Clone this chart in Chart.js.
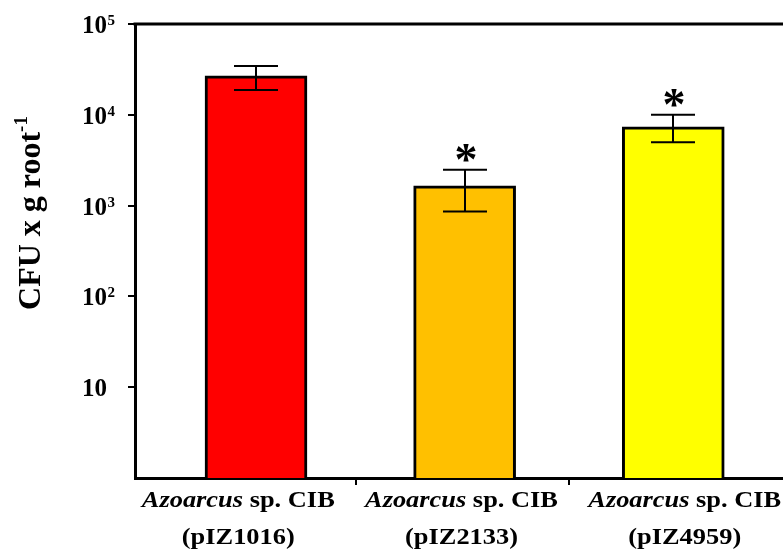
<!DOCTYPE html>
<html><head><meta charset="utf-8">
<script src="https://cdn.jsdelivr.net/npm/chart.js@4.4.1/dist/chart.umd.min.js"></script>
<style>html,body{margin:0;padding:0;background:#fff}#wrap{width:783px;height:551px}</style>
</head><body><div id="wrap"><canvas id="c" width="783" height="551"></canvas></div>
<script>
// ---- data ----
const genus = ['Azoarcus', 'Azoarcus', 'Azoarcus'];
const strain = ['sp. CIB', 'sp. CIB', 'sp. CIB'];
const plasmid = ['(pIZ1016)', '(pIZ2133)', '(pIZ4959)'];
const cfu = [26800, 1650, 7360];
const cfuHigh = [34500, 2480, 10000];
const cfuLow = [18800, 860, 5000];
const significant = [false, true, true];
const yTicks = [10, 100, 1000, 10000, 100000];
const yTickBase = ['10', '10', '10', '10', '10'];
const yTickExp = ['', '2', '3', '4', '5'];
const yTitle = 'CFU x g root';
const yTitleExp = '-1';
const barColors = ['#FF0000', '#FFC000', '#FFFF00'];

const SERIF = '"Liberation Serif", "Times New Roman", serif';

const overlay = {
  id: 'overlay',
  afterDatasetsDraw(chart) {
    const {ctx, chartArea: a, scales: {x, y}} = chart;
    ctx.save();
    ctx.strokeStyle = '#000';
    ctx.lineWidth = 3;
    ctx.beginPath();
    ctx.moveTo(a.left - 1.5, a.top);
    ctx.lineTo(chart.width, a.top);
    ctx.stroke();
    ctx.lineWidth = 2;
    ctx.fillStyle = '#000';
    cfu.forEach((v, i) => {
      const cx = Math.round(x.getPixelForValue(i));
      const yh = y.getPixelForValue(cfuHigh[i]);
      const yl = y.getPixelForValue(cfuLow[i]);
      ctx.beginPath();
      ctx.moveTo(cx, yh); ctx.lineTo(cx, yl);
      ctx.moveTo(cx - 22, yh); ctx.lineTo(cx + 22, yh);
      ctx.moveTo(cx - 22, yl); ctx.lineTo(cx + 22, yl);
      ctx.stroke();
      if (significant[i]) {
        ctx.font = 'bold 46px ' + SERIF;
        ctx.textAlign = 'center';
        ctx.textBaseline = 'alphabetic';
        const m = ctx.measureText('*');
        const desc = m.actualBoundingBoxDescent || 0;
        ctx.fillText('*', cx + 1, yh - 8 - desc);
      }
    });
    ctx.restore();
  },
  afterDraw(chart) {
    const {ctx, chartArea: a, scales: {x, y}} = chart;
    ctx.save();
    ctx.fillStyle = '#000';
    ctx.textBaseline = 'alphabetic';
    // y tick labels
    yTicks.forEach((t, i) => {
      const py = y.getPixelForValue(t);
      ctx.font = 'bold 25px ' + SERIF;
      ctx.textAlign = 'right';
      ctx.fillText(yTickBase[i], 107, py + 9);
      if (yTickExp[i]) {
        ctx.font = 'bold 15px ' + SERIF;
        ctx.textAlign = 'left';
        ctx.fillText(yTickExp[i], 107.5, py + 1);
      }
    });
    // x category labels
    const sx = 1.1;
    const fs = 24;
    genus.forEach((g, i) => {
      const cx = x.getPixelForValue(i * 1.07 - 0.085);
      ctx.font = 'italic bold ' + fs + 'px ' + SERIF;
      const w1 = ctx.measureText(g).width;
      ctx.font = 'bold ' + fs + 'px ' + SERIF;
      const w2 = ctx.measureText(' ' + strain[i]).width;
      ctx.save();
      ctx.translate(cx, 0);
      ctx.scale(sx, 1);
      ctx.textAlign = 'left';
      const x0 = -(w1 + w2) / 2;
      ctx.font = 'italic bold ' + fs + 'px ' + SERIF;
      ctx.fillText(g, x0, 507);
      ctx.font = 'bold ' + fs + 'px ' + SERIF;
      ctx.fillText(' ' + strain[i], x0 + w1, 507);
      ctx.textAlign = 'center';
      ctx.fillText(plasmid[i], 0, 544);
      ctx.restore();
    });
    // y axis title
    ctx.save();
    ctx.translate(40, 213);
    ctx.rotate(-Math.PI / 2);
    ctx.font = 'bold 32px ' + SERIF;
    const tw = ctx.measureText(yTitle).width;
    ctx.font = 'bold 19px ' + SERIF;
    const ew = ctx.measureText(yTitleExp).width;
    const start = -(tw + ew) / 2;
    ctx.textAlign = 'left';
    ctx.font = 'bold 32px ' + SERIF;
    ctx.fillText(yTitle, start, 0);
    ctx.font = 'bold 19px ' + SERIF;
    ctx.fillText(yTitleExp, start + tw, -13);
    ctx.restore();
    ctx.restore();
  }
};

new Chart(document.getElementById('c'), {
  type: 'bar',
  data: {
    datasets: [{
      data: cfu.map((v, i) => ({x: i, y: v})),
      backgroundColor: barColors,
      borderColor: '#000',
      borderWidth: 3,
      barThickness: 102
    }]
  },
  options: {
    responsive: false,
    animation: false,
    devicePixelRatio: 1,
    layout: {padding: {top: 24, left: 0, right: 0, bottom: 0}},
    plugins: {legend: {display: false}, tooltip: {enabled: false}},
    scales: {
      x: {
        type: 'linear',
        min: -0.58,
        max: 2.526,
        offset: false,
        bounds: 'data',
        afterBuildTicks: s => { s.ticks = [{value: 0.48}, {value: 1.5}]; },
        afterFit: s => { s.height = 73; },
        ticks: {display: false},
        grid: {offset: false, drawOnChartArea: false, drawTicks: true, tickLength: 7, color: '#000', lineWidth: 2},
        border: {display: true, color: '#000', width: 3}
      },
      y: {
        type: 'logarithmic',
        min: 1,
        max: 100000,
        afterBuildTicks: s => { s.ticks = yTicks.map(v => ({value: v})); },
        afterFit: s => { s.width = 135; },
        ticks: {display: false},
        grid: {drawOnChartArea: false, drawTicks: true, tickLength: 7, color: '#000', lineWidth: 2},
        border: {display: true, color: '#000', width: 3}
      }
    }
  },
  plugins: [overlay]
});
</script>
</body></html>
